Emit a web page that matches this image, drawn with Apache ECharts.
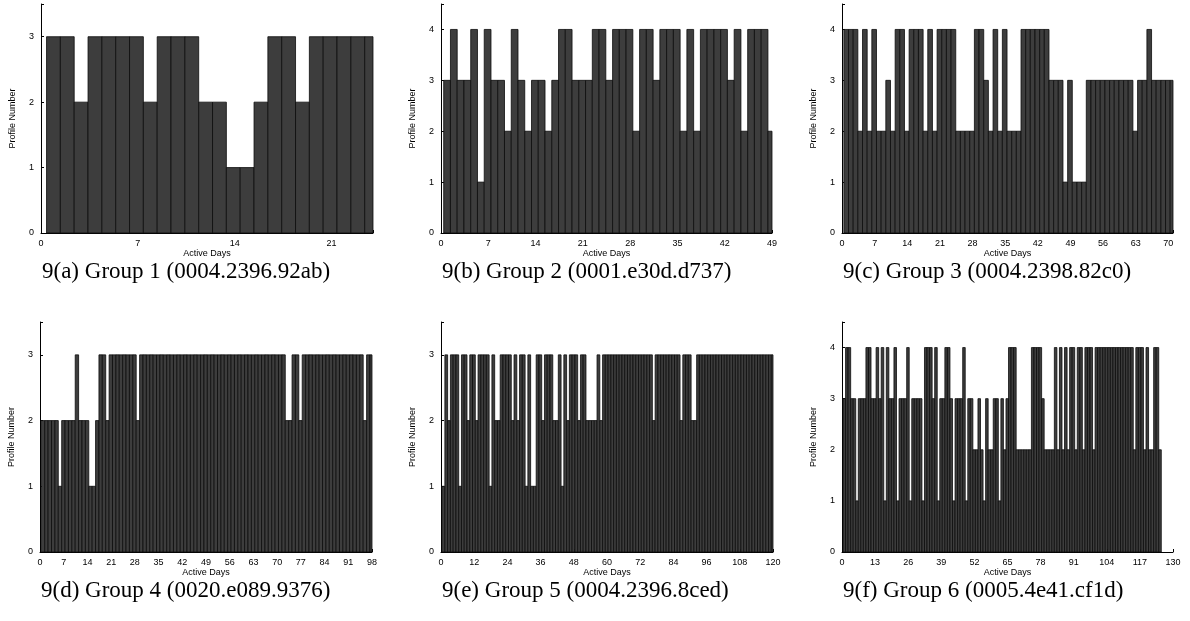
<!DOCTYPE html>
<html>
<head>
<meta charset="utf-8">
<script src="https://cdn.jsdelivr.net/npm/echarts@6/dist/echarts.min.js"></script>
<style>
  html, body { margin: 0; background: #fff; }
  #chart { width: 1190px; height: 621px; }
</style>
</head>
<body>
<div id="chart"></div>
<script>
// profile number per active day, one array per group
const group1 = [3,3,2,3,3,3,3,2,3,3,3,2,2,1,1,2,3,3,2,3,3,3,3,3]
const group2 = [3,4,3,3,4,1,4,3,3,2, 4,3,2,3,3,2,3,4,4,3, 3,3,4,4,3,4,4,4,2,4,
  4,3,4,4,4,2,4,2,4,4, 4,4,3,4,2,4,4,4,2]
const group3 = [4,4,4,2,4,2,4,2,2,3, 2,4,4,2,4,4,4,2,4,2, 4,4,4,4,2,2,2,2,4,4,
  3,2,4,2,4,2,2,2,4,4, 4,4,4,4,3,3,3,1,3,1, 1,1,3,3,3,3,3,3,3,3, 3,3,2,3,3,4,3,3,3,3, 3]
const group4 = [2,2,2,2,2,1,2,2,2,2, 3,2,2,2,1,1,2,3,3,2, 3,3,3,3,3,3,3,3,2,3,
  3,3,3,3,3,3,3,3,3,3, 3,3,3,3,3,3,3,3,3,3, 3,3,3,3,3,3,3,3,3,3, 3,3,3,3,3,3,3,3,3,3,
  3,3,2,2,3,3,2,3,3,3, 3,3,3,3,3,3,3,3,3,3, 3,3,3,3,3,2,3,3]
const group5 = [1,3,2,3,3,3,1,3,3,2, 3,3,2,3,3,3,3,1,3,2, 2,3,3,3,3,2,3,2,3,3,
  1,3,1,1,3,3,2,3,3,3, 2,2,3,1,3,2,3,3,3,2, 3,3,2,2,2,2,3,2,3,3, 3,3,3,3,3,3,3,3,3,3,
  3,3,3,3,3,3,2,3,3,3, 3,3,3,3,3,3,2,3,3,3, 2,2,3,3,3,3,3,3,3,3, 3,3,3,3,3,3,3,3,3,3,
  3,3,3,3,3,3,3,3,3,3]
const group6 = [3,4,4,3,3,1,3,3,3,4, 4,3,3,4,3,4,1,4,3,3, 4,1,3,3,3,4,1,3,3,3,
  3,1,4,4,4,3,4,1,3,3, 4,4,3,1,3,3,3,4,1,3, 3,2,2,3,2,1,3,2,2,3, 3,1,3,2,3,4,4,4,2,2,
  2,2,2,2,4,4,4,4,3,2, 2,2,2,4,2,4,2,4,2,4, 4,2,4,4,2,4,4,4,2,4, 4,4,4,4,4,4,4,4,4,4,
  4,4,4,4,2,4,4,4,2,4, 2,2,4,4,2]

const groups = [group1, group2, group3, group4, group5, group6]
const xMax = [24, 49, 71, 98, 120, 130]
const xStep = [7, 7, 7, 7, 12, 13]
const yMax = [3.5, 4.5, 4.5, 3.5, 3.5, 4.5]
const captions = [
  '9(a) Group 1 (0004.2396.92ab)',
  '9(b) Group 2 (0001.e30d.d737)',
  '9(c) Group 3 (0004.2398.82c0)',
  '9(d) Group 4 (0020.e089.9376)',
  '9(e) Group 5 (0004.2396.8ced)',
  '9(f) Group 6 (0005.4e41.cf1d)',
]

const boxes = [
  { left: 41, top: 4, width: 332, height: 229 },
  { left: 441, top: 4, width: 331, height: 229 },
  { left: 842, top: 4, width: 331, height: 229 },
  { left: 40, top: 322, width: 332, height: 230 },
  { left: 441, top: 322, width: 332, height: 230 },
  { left: 842, top: 322, width: 331, height: 230 },
]

const SANS = 'Liberation Sans, Arial, sans-serif'
const tickFont = { fontFamily: SANS, fontSize: 9, color: '#000' }

// gnuplot-style boxes: each day box spans [day-0.6, day+0.4], cut at the plot edge
function renderBox(params, api) {
  const day = api.value(0)
  const top = api.coord([day - 0.6, api.value(1)])
  const base = api.coord([day + 0.4, 0])
  const cs = params.coordSys
  const shape = echarts.graphic.clipRectByRect(
    { x: top[0], y: top[1], width: base[0] - top[0], height: base[1] - top[1] },
    { x: cs.x, y: cs.y, width: cs.width, height: cs.height }
  )
  return shape && { type: 'rect', shape, style: api.style() }
}

const chart = echarts.init(document.getElementById('chart'))

chart.setOption({
  animation: false,
  backgroundColor: '#fff',
  title: captions.map((t, i) => ({
    text: t,
    left: boxes[i].left + 1,
    top: boxes[i].top + boxes[i].height + 27,
    padding: 0,
    textStyle: { fontFamily: 'Liberation Serif, serif', fontSize: 23, fontWeight: 'normal', color: '#000' },
  })),
  grid: boxes.map((b) => ({ ...b, containLabel: false })),
  xAxis: groups.map((g, i) => ({
    type: 'value',
    gridIndex: i,
    min: 0,
    max: xMax[i],
    interval: xStep[i],
    name: 'Active Days',
    nameLocation: 'middle',
    nameGap: 16,
    nameTextStyle: { fontFamily: SANS, fontSize: 9, color: '#000' },
    splitLine: { show: false },
    axisLine: { show: true, onZero: false, lineStyle: { color: '#000', width: 1 } },
    axisTick: { show: true, inside: true, length: 3, lineStyle: { color: '#000' } },
    axisLabel: {
      ...tickFont,
      margin: 6,
      formatter: (v) => (v % xStep[i] === 0 ? String(v) : ''),
    },
  })),
  yAxis: groups.map((g, i) => ({
    type: 'value',
    gridIndex: i,
    min: 0,
    max: yMax[i],
    interval: 1,
    name: 'Profile Number',
    nameLocation: 'middle',
    nameGap: 24,
    nameTextStyle: { fontFamily: SANS, fontSize: 9, color: '#000' },
    splitLine: { show: false },
    axisLine: { show: true, lineStyle: { color: '#000', width: 1 } },
    axisTick: { show: true, inside: true, length: 3, lineStyle: { color: '#000' } },
    axisLabel: {
      ...tickFont,
      margin: 7,
      formatter: (v) => (Number.isInteger(v) ? String(v) : ''),
    },
  })),
  series: groups.map((g, i) => ({
    type: 'custom',
    xAxisIndex: i,
    yAxisIndex: i,
    renderItem: renderBox,
    encode: { x: 0, y: 1 },
    itemStyle: { color: '#3d3d3d', borderColor: '#0d0d0d', borderWidth: 0.8 },
    data: g.map((v, d) => [d + 1, v]),
  })),
})
</script>
</body>
</html>
